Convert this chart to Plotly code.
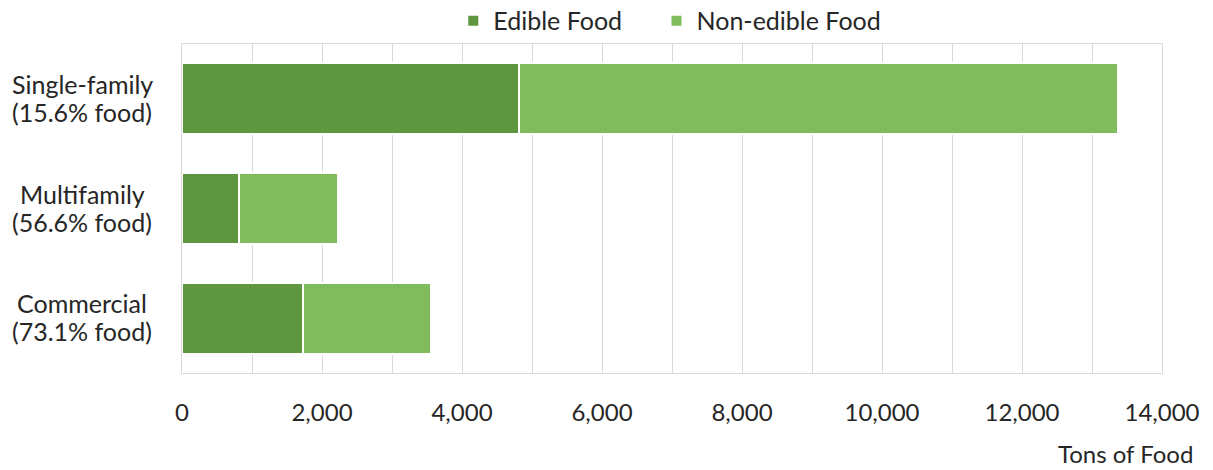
import plotly.graph_objects as go

categories = ["Single-family", "Multifamily", "Commercial"]
category_notes = ["(15.6% food)", "(56.6% food)", "(73.1% food)"]
edible = [4820, 812, 1733]
non_edible = [8546, 1416, 1830]
tick_values = [0, 2000, 4000, 6000, 8000, 10000, 12000, 14000]
tick_labels = ["0", "2,000", "4,000", "6,000", "8,000", "10,000", "12,000", "14,000"]

FONT = "Lato"
TXT = "#262626"
GRID = "#D9D9D9"

fig = go.Figure()
fig.add_trace(go.Bar(
    y=categories, x=edible, orientation="h", name="Edible Food", legend="legend",
    showlegend=True,
    marker=dict(color="#5F9640", line=dict(color="white", width=2)),
))
fig.add_trace(go.Bar(
    y=categories, x=non_edible, orientation="h", name="Non-edible Food", legend="legend2",
    showlegend=True,
    marker=dict(color="#80BB5E", line=dict(color="white", width=2)),
))

annotations = []
for c, n in zip(categories, category_notes):
    annotations.append(dict(
        x=-0.1016, xref="paper", y=c, yref="y", text=c, yshift=15,
        showarrow=False, xanchor="center", yanchor="middle",
        font=dict(family=FONT, size=25, color=TXT),
    ))
    annotations.append(dict(
        x=-0.1016, xref="paper", y=c, yref="y", text=n, yshift=-13,
        showarrow=False, xanchor="center", yanchor="middle",
        font=dict(family=FONT, size=25, color=TXT),
    ))
annotations.append(dict(
    x=1.034, xref="paper", y=-0.246, yref="paper", text="Tons of Food",
    showarrow=False, xanchor="right", yanchor="middle",
    font=dict(family=FONT, size=24, color=TXT),
))

legend_style = dict(orientation="h", y=1.07, yanchor="middle", xanchor="left",
                    font=dict(family=FONT, size=25, color=TXT),
                    bgcolor="rgba(0,0,0,0)")

fig.update_layout(
    width=1213, height=470,
    margin=dict(l=182, r=51, t=44, b=97, autoexpand=False),
    barmode="stack", bargap=0.35,
    showlegend=True,
    plot_bgcolor="white", paper_bgcolor="white",
    font=dict(family=FONT, size=24, color=TXT),
    legend=dict(x=0.2768, **legend_style),
    legend2=dict(x=0.4842, **legend_style),
    annotations=annotations,
    xaxis=dict(range=[0, 14000], tickvals=tick_values, ticktext=tick_labels,
               showgrid=True, gridcolor=GRID, gridwidth=1,
               minor=dict(dtick=1000, showgrid=True, gridcolor=GRID, gridwidth=1),
               showline=True, linecolor=GRID, linewidth=1, mirror=True,
               zeroline=False, ticks="", ticklabelstandoff=18,
               tickfont=dict(family=FONT, size=24, color=TXT)),
    yaxis=dict(categoryorder="array", categoryarray=categories, autorange="reversed",
               showticklabels=False, showgrid=False, showline=True, linecolor=GRID,
               linewidth=1, mirror=True, ticks=""),
)

fig.write_html("out.html")
